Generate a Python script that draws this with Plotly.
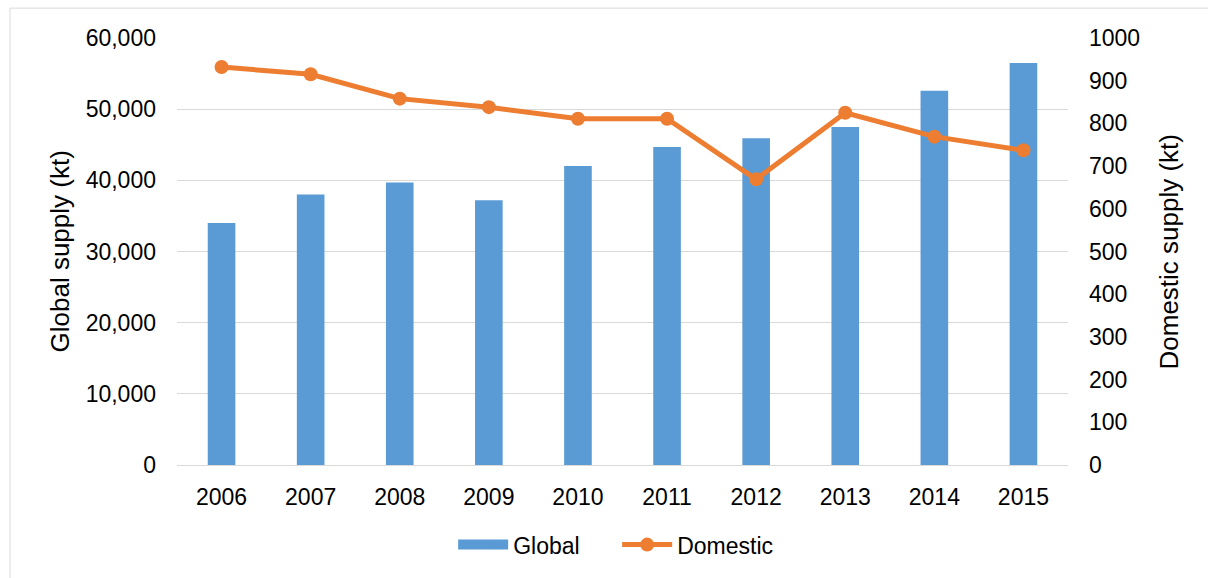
import plotly.graph_objects as go

years = ["2006", "2007", "2008", "2009", "2010", "2011", "2012", "2013", "2014", "2015"]
global_supply = [34000, 38000, 39700, 37200, 42000, 44700, 45900, 47500, 52600, 56500]
domestic_supply = [932, 915, 858, 838, 811, 811, 669, 825, 769, 737]

left_ticks = [0, 10000, 20000, 30000, 40000, 50000, 60000]
left_ticklabels = ["0", "10,000", "20,000", "30,000", "40,000", "50,000", "60,000"]
right_ticks = [0, 100, 200, 300, 400, 500, 600, 700, 800, 900, 1000]

FONT = "Liberation Sans, Arial, sans-serif"
W, H = 1208, 578
L, R, T, B = 177, 140, 38, 111
pw, ph = W - L - R, H - T - B

fig = go.Figure()
fig.add_trace(go.Bar(
    x=years, y=global_supply, name="Global",
    marker=dict(color="#5B9BD5", line=dict(width=0)),
    yaxis="y", showlegend=False,
))
# legend-only entry so the Global key is drawn as a wide bar swatch
fig.add_trace(go.Scatter(
    x=[None], y=[None], name="Global", mode="lines",
    line=dict(color="#5B9BD5", width=14), yaxis="y",
))
fig.add_trace(go.Scatter(
    x=years, y=domestic_supply, name="Domestic",
    mode="lines+markers",
    line=dict(color="#ED7D31", width=5),
    marker=dict(color="#ED7D31", size=14),
    yaxis="y2",
))

fig.update_layout(
    width=W, height=H,
    margin=dict(l=L, r=R, t=T, b=B),
    paper_bgcolor="white", plot_bgcolor="white",
    font=dict(family=FONT, size=23, color="#000000"),
    bargap=0.69,
    showlegend=True,
    legend=dict(orientation="h", x=0.494, xanchor="center", y=(-(547 - (T + ph)) / ph),
                yanchor="middle", font=dict(size=23), itemwidth=50,
                entrywidth=99, entrywidthmode="pixels",
                bgcolor="rgba(0,0,0,0)"),
    xaxis=dict(
        type="category", range=[-0.5, 9.5], showgrid=False, zeroline=False,
        showline=True, linecolor="#D9D9D9", linewidth=1,
        ticks="", tickfont=dict(size=23), ticklabelstandoff=11,
    ),
    yaxis=dict(
        range=[0, 60000], tickvals=left_ticks, ticktext=left_ticklabels,
        showgrid=True, gridcolor="#D9D9D9", gridwidth=1,
        zeroline=True, zerolinecolor="#D9D9D9", zerolinewidth=1,
        showline=False, ticks="", tickfont=dict(size=23), ticklabelstandoff=20,
    ),
    yaxis2=dict(
        range=[0, 1000], tickvals=right_ticks, overlaying="y", side="right",
        showgrid=False, zeroline=False, showline=False, ticks="",
        tickfont=dict(size=23), ticklabelstandoff=20,
    ),
    annotations=[
        dict(text="Global supply (kt)", x=(59 - L) / pw, y=0.5, xref="paper", yref="paper",
             textangle=-90, showarrow=False, font=dict(size=26), xanchor="center", yanchor="middle"),
        dict(text="Domestic supply (kt)", x=(1168 - L) / pw, y=0.5, xref="paper", yref="paper",
             textangle=-90, showarrow=False, font=dict(size=26), xanchor="center", yanchor="middle"),
    ],
    shapes=[
        dict(type="rect", xref="paper", yref="paper",
             x0=(10 - L) / pw, x1=(1220 - L) / pw,
             y0=-(600 - (T + ph)) / ph, y1=1 + (T - 8) / ph,
             line=dict(color="#D9D9D9", width=1), fillcolor="rgba(0,0,0,0)", layer="below"),
    ],
)

fig.write_html("out.html")
